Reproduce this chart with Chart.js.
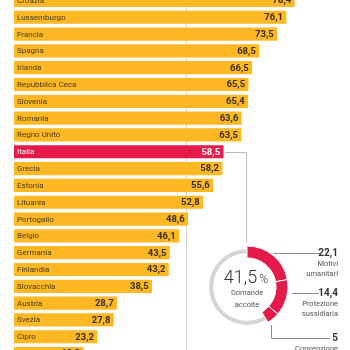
<!DOCTYPE html>
<html>
<head>
<meta charset="utf-8">
<script src="https://cdn.jsdelivr.net/npm/chart.js@4/dist/chart.umd.min.js"></script>
<style>
html, body { margin: 0; padding: 0; background: #fff; width: 350px; height: 350px; overflow: hidden; }
#wrap { position: relative; width: 350px; height: 350px; overflow: hidden; }
#bars { position: absolute; left: 0; top: -8px; }
#ring, #donut { position: absolute; left: 190px; top: 230px; }
</style>
</head>
<body>
<div id="wrap">
  <canvas id="bars" width="350" height="370"></canvas>
  <canvas id="ring" width="160" height="120"></canvas>
  <canvas id="donut" width="160" height="120"></canvas>
</div>
<script>
// domande accolte in % (l'ultima barra e' tagliata in basso)
const paesi = ['Croazia', 'Lussemburgo', 'Francia', 'Spagna', 'Irlanda', 'Repubblica Ceca',
  'Slovenia', 'Romania', 'Regno Unito', 'Italia', 'Grecia', 'Estonia', 'Lituania',
  'Portogallo', 'Belgio', 'Germania', 'Finlandia', 'Slovacchia', 'Austria', 'Svezia', 'Cipro', ''];
const accolte = [78.4, 76.1, 73.5, 68.5, 66.5, 65.5, 65.4, 63.6, 63.5, 58.5, 58.2, 55.6, 52.8,
  48.6, 46.1, 43.5, 43.2, 38.5, 28.7, 27.8, 23.2, 19.3];
const media = 48;

// Italia: tipo di protezione
const motivi = [['Motivi', 'umanitari'], ['Protezione', 'sussidiaria'], ['Convenzione']];
const quote = [22.1, 14.4, 5];

const giallo = '#FDB823';
const rosso = '#E5194A';
const fmt = v => String(v).replace('.', ',');

// offset dei canvas nella pagina
const BARS_TOP = -8;
const DONUT_LEFT = 190, DONUT_TOP = 230;

const etichette = {
  id: 'etichette',
  beforeDatasetsDraw(chart) {
    const ctx = chart.ctx;
    const x = Math.round(chart.scales.x.getPixelForValue(media)) + 0.5;
    ctx.save();
    ctx.strokeStyle = '#d2d5d7';
    ctx.lineWidth = 1;
    ctx.beginPath();
    ctx.moveTo(x, 0);
    ctx.lineTo(x, chart.height);
    ctx.stroke();
    ctx.restore();
  },
  afterDatasetsDraw(chart) {
    const ctx = chart.ctx;
    const meta = chart.getDatasetMeta(0);
    ctx.save();
    ctx.textBaseline = 'middle';
    meta.data.forEach((bar, i) => {
      const ita = paesi[i] === 'Italia';
      ctx.fillStyle = ita ? '#fff' : '#4a3c20';
      ctx.font = '8px Roboto';
      ctx.textAlign = 'left';
      ctx.fillText(paesi[i], bar.base + 3, bar.y + 0.5);
      ctx.font = 'bold 9.5px Roboto';
      ctx.textAlign = 'right';
      ctx.fillStyle = ita ? '#fff' : '#3a2f1c';
      ctx.fillText(fmt(accolte[i]), bar.x - 3, bar.y + 0.5);
    });

    // collegamento Italia -> ciambella
    const it = meta.data[paesi.indexOf('Italia')];
    const y = Math.round(it.y) + 0.5;
    const xv = 246.5;
    ctx.strokeStyle = '#b9bcbe';
    ctx.lineWidth = 1;
    ctx.beginPath();
    ctx.moveTo(it.x + 2, y);
    ctx.lineTo(xv, y);
    ctx.lineTo(xv, 242 - BARS_TOP);
    ctx.stroke();
    ctx.restore();
  }
};

new Chart(document.getElementById('bars'), {
  type: 'bar',
  data: {
    labels: paesi,
    datasets: [{
      data: accolte,
      backgroundColor: paesi.map(p => p === 'Italia' ? rosso : giallo),
      borderWidth: 0,
      barThickness: 12.5
    }]
  },
  options: {
    indexAxis: 'y',
    responsive: false,
    animation: false,
    events: [],
    layout: { padding: { left: 14, right: 0, top: 0, bottom: 0 } },
    scales: {
      x: { display: false, min: 0, max: 94 },
      y: { display: false }
    },
    plugins: { legend: { display: false }, tooltip: { enabled: false } }
  },
  plugins: [etichette]
});

// anello grigio sottile
new Chart(document.getElementById('ring'), {
  type: 'doughnut',
  data: { datasets: [{ data: [100], backgroundColor: ['#d3d6d8'], borderWidth: 0 }] },
  options: {
    responsive: false,
    animation: false,
    events: [],
    radius: 38,
    cutout: '89%',
    layout: { padding: { right: 46, bottom: 6 } },
    plugins: { legend: { display: false }, tooltip: { enabled: false } }
  }
});

const totale = quote.reduce((a, b) => a + b, 0);

const centro = {
  id: 'centro',
  afterDraw(chart) {
    const ctx = chart.ctx;
    const arc = chart.getDatasetMeta(0).data[0];
    const cx = arc.x, cy = arc.y;
    const P = (x, y) => [x - DONUT_LEFT, y - DONUT_TOP];
    ctx.save();

    // testo centrale
    const num = fmt(Math.round(totale * 10) / 10);
    ctx.font = '300 18px Roboto';
    const w1 = ctx.measureText(num).width;
    ctx.font = '300 12px Roboto';
    const w2 = ctx.measureText('%').width;
    const x0 = cx - (w1 + 2 + w2) / 2 - 1;
    ctx.fillStyle = '#333';
    ctx.textBaseline = 'alphabetic';
    ctx.textAlign = 'left';
    ctx.font = '300 18px Roboto';
    ctx.fillText(num, x0, cy - 4.5);
    ctx.font = '300 12px Roboto';
    ctx.fillText('%', x0 + w1 + 2, cy - 4.5);
    ctx.font = '7.5px Roboto';
    ctx.fillStyle = '#555';
    ctx.textAlign = 'center';
    ctx.textBaseline = 'middle';
    ctx.fillText('Domande', cx, cy + 6);
    ctx.fillText('accolte', cx, cy + 18);

    // linee e etichette a destra
    ctx.strokeStyle = '#8c8c8c';
    ctx.lineWidth = 1;
    const linee = [
      [[273, 253.5], [320, 253.5]],
      [[292, 293.5], [319, 293.5]],
      [[271.5, 325], [271.5, 338.5], [330, 338.5]]
    ];
    const yv = [253.5, 293.5, 338.5];
    linee.forEach((pts, i) => {
      ctx.beginPath();
      pts.forEach((p, j) => {
        const [x, y] = P(p[0], p[1]);
        if (j === 0) ctx.moveTo(x, y); else ctx.lineTo(x, y);
      });
      ctx.stroke();
      const [tx, ty] = P(338, yv[i]);
      ctx.textAlign = 'right';
      ctx.fillStyle = '#333';
      ctx.font = 'bold 10px Roboto';
      ctx.fillText(fmt(quote[i]), tx, ty);
      ctx.font = '7.5px Roboto';
      ctx.fillStyle = '#555';
      motivi[i].forEach((r, k) => ctx.fillText(r, tx, ty + 11 + k * 10));
    });
    ctx.restore();
  }
};

new Chart(document.getElementById('donut'), {
  type: 'doughnut',
  data: {
    labels: [...motivi.map(m => m.join(' ')), ''],
    datasets: [{
      data: [...quote, 100 - totale],
      backgroundColor: [rosso, rosso, rosso, 'rgba(0,0,0,0)'],
      borderColor: '#fff',
      borderWidth: [1, 1, 1, 0]
    }]
  },
  options: {
    responsive: false,
    animation: false,
    events: [],
    radius: 41,
    cutout: '71%',
    layout: { padding: { right: 46, bottom: 6 } },
    plugins: { legend: { display: false }, tooltip: { enabled: false } }
  },
  plugins: [centro]
});
</script>
</body>
</html>
